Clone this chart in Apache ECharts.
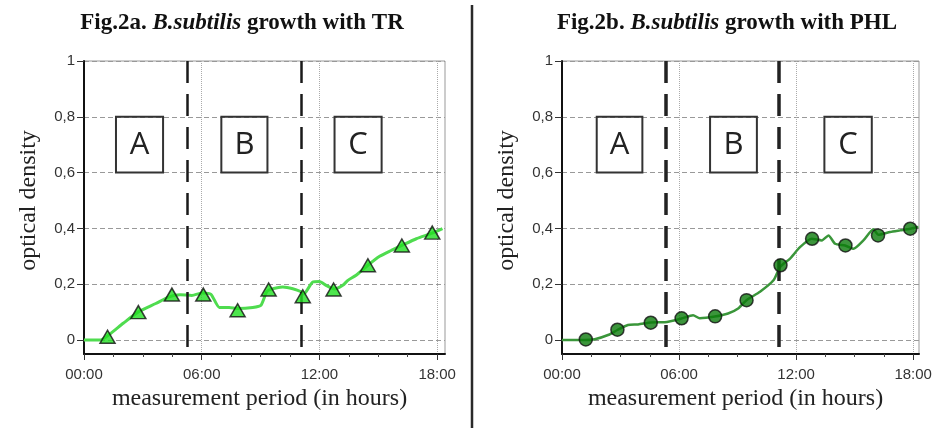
<!DOCTYPE html>
<html><head><meta charset="utf-8">
<script src="https://cdn.jsdelivr.net/npm/echarts@6/dist/echarts.min.js"></script>
<style>html,body{margin:0;padding:0;background:#fff}#c{width:943px;height:428px}</style>
</head><body><div id="c"></div>
<script>
// ---- tick values ----
const yTicks = [0, 0.2, 0.4, 0.6, 0.8, 1];
const xTicks = [0, 6, 12, 18];

// ---- Fig.2a (TR) ----
const trHours = [1.2, 2.77, 4.48, 6.08, 7.83, 9.41, 11.15, 12.72, 14.47, 16.2, 17.75];
const trOD    = [0.012, 0.1, 0.163, 0.163, 0.107, 0.181, 0.157, 0.181, 0.268, 0.339, 0.385];
const trLineHours = [0, 0.8, 1.2, 2.0, 2.75, 3.66, 4.34, 4.9, 5.5, 6.04, 6.47, 6.9, 7.4, 7.85, 8.6, 9.02, 9.3, 9.45, 10.13, 10.64, 11.07, 11.2, 11.66, 12.0, 12.34, 12.77, 13.19, 13.45, 13.87, 14.47, 15.07, 15.66, 16.2, 16.94, 17.75, 18.27];
const trLineOD    = [0, 0, 0.015, 0.06, 0.1, 0.131, 0.155, 0.162, 0.16, 0.169, 0.164, 0.117, 0.117, 0.113, 0.117, 0.125, 0.172, 0.18, 0.19, 0.184, 0.173, 0.165, 0.208, 0.21, 0.196, 0.183, 0.196, 0.214, 0.232, 0.268, 0.3, 0.321, 0.339, 0.363, 0.383, 0.399];
const trPhaseSplits = [5.26, 11.08];
const trBoxes = [['A', 1.63, 4.03], ['B', 7.0, 9.35], ['C', 12.77, 15.17]];

// ---- Fig.2b (PHL) ----
const phlHours = [1.22, 2.84, 4.55, 6.13, 7.85, 9.46, 11.2, 12.82, 14.53, 16.2, 17.85];
const phlOD    = [0.002, 0.037, 0.062, 0.078, 0.085, 0.143, 0.268, 0.363, 0.339, 0.375, 0.399];
const phlLineHours = [0, 1.16, 1.68, 2.36, 2.84, 3.38, 3.9, 4.55, 5.27, 6.12, 6.72, 7.06, 7.83, 8.51, 9.03, 9.46, 10.15, 10.84, 11.18, 11.69, 12.2, 12.8, 13.32, 13.66, 14.0, 14.51, 14.94, 15.45, 15.96, 16.22, 16.82, 17.33, 17.85, 18.27];
const phlLineOD    = [0, 0, 0.003, 0.018, 0.036, 0.054, 0.056, 0.063, 0.064, 0.077, 0.089, 0.078, 0.084, 0.095, 0.113, 0.143, 0.173, 0.214, 0.262, 0.292, 0.333, 0.363, 0.357, 0.375, 0.345, 0.339, 0.327, 0.357, 0.397, 0.377, 0.387, 0.393, 0.399, 0.405];
const phlPhaseSplits = [5.32, 11.1];
const phlBoxes = [['A', 1.78, 4.12], ['B', 7.59, 9.99], ['C', 13.45, 15.88]];

const boxBottom = 0.6, boxTop = 0.8;
const yMin = -0.05, yMax = 1, dashBottom = -0.025;

const zip = (a, b) => a.map((v, i) => [v, b[i]]);
const sans = 'Liberation Sans';
const serif = 'Liberation Serif';

function xAxisFor(idx, max) {
  return {
    type: 'value', gridIndex: idx, min: 0, max: max, interval: 6,
    axisLine: { onZero: false, lineStyle: { color: '#111', width: 2 } },
    axisTick: { customValues: xTicks, length: 6, lineStyle: { color: '#333' } },
    minorTick: { show: true, splitNumber: 4, length: 3, lineStyle: { color: '#444' } },
    axisLabel: {
      customValues: xTicks, margin: 13, color: '#333', fontFamily: sans, fontSize: 15,
      formatter: v => String(v).padStart(2, '0') + ':00'
    },
    splitLine: { show: true, lineStyle: { type: 'dotted', color: '#aaa', width: 1 } },
    name: 'measurement period (in hours)', nameLocation: 'middle', nameGap: 30,
    nameTextStyle: { fontFamily: serif, fontSize: 24, color: '#222', padding: [0, 10, 0, 0] }
  };
}
function yAxisFor(idx) {
  return {
    type: 'value', gridIndex: idx, min: yMin, max: yMax,
    axisLine: { show: true, lineStyle: { color: '#111', width: 2 } },
    axisTick: { show: true, customValues: yTicks, length: 7, lineStyle: { color: '#333' } },
    axisLabel: {
      customValues: yTicks, margin: 9, color: '#333', fontFamily: sans, fontSize: 15,
      formatter: v => (v === 0 ? '0' : v === 1 ? '1' : v.toFixed(1).replace('.', ','))
    },
    splitLine: { show: true, lineStyle: { type: [5, 3], color: '#999', width: 1 } },
    name: 'optical density', nameLocation: 'middle', nameGap: 43, nameRotate: 90,
    nameTextStyle: { fontFamily: serif, fontSize: 24, color: '#222', padding: [0, 0, 0, 14] }
  };
}
function markLinesFor(splits, color, width) {
  return {
    silent: true, symbol: 'none', label: { show: false },
    lineStyle: { type: [22, 11], color: color, width: width },
    data: splits.map(h => [{ coord: [h, yMax] }, { coord: [h, dashBottom] }])
  };
}
function markAreasFor(boxes) {
  return {
    silent: true,
    itemStyle: { color: 'rgba(0,0,0,0)', borderColor: '#333', borderWidth: 2 },
    label: { show: true, position: 'inside', fontFamily: 'Open Sans', fontSize: 31, color: '#222' },
    data: boxes.map(b => [{ name: b[0], xAxis: b[1], yAxis: boxBottom }, { xAxis: b[2], yAxis: boxTop }])
  };
}

const chart = echarts.init(document.getElementById('c'));
chart.setOption({
  animation: false,
  backgroundColor: '#fff',
  title: [
    { text: '{a|Fig.2a. }{b|B.subtilis}{a| growth with TR}', left: 242, top: 12, textAlign: 'center', padding: 0,
      textStyle: { rich: {
        a: { fontFamily: serif, fontWeight: 'bold', fontSize: 23, color: '#111' },
        b: { fontFamily: serif, fontWeight: 'bold', fontStyle: 'italic', fontSize: 23, color: '#111' } } } },
    { text: '{a|Fig.2b. }{b|B.subtilis}{a| growth with PHL}', left: 727, top: 12, textAlign: 'center', padding: 0,
      textStyle: { rich: {
        a: { fontFamily: serif, fontWeight: 'bold', fontSize: 23, color: '#111' },
        b: { fontFamily: serif, fontWeight: 'bold', fontStyle: 'italic', fontSize: 23, color: '#111' } } } }
  ],
  grid: [
    { left: 84, top: 61, width: 361, height: 293, show: true, borderColor: '#999', borderWidth: 1, backgroundColor: 'transparent' },
    { left: 562, top: 61, width: 357, height: 293, show: true, borderColor: '#999', borderWidth: 1, backgroundColor: 'transparent' }
  ],
  xAxis: [xAxisFor(0, 18.4), xAxisFor(1, 18.3)],
  yAxis: [yAxisFor(0), yAxisFor(1)],
  graphic: [
    { type: 'line', shape: { x1: 472, y1: 5, x2: 472, y2: 428 }, style: { stroke: '#2a2a2a', lineWidth: 2.5 } }
  ],
  series: [
    { type: 'line', xAxisIndex: 0, yAxisIndex: 0, data: zip(trLineHours, trLineOD), showSymbol: false, smooth: 0.2,
      lineStyle: { color: '#4fdc4f', width: 3 },
      markLine: markLinesFor(trPhaseSplits, '#1a1a1a', 2.5), markArea: markAreasFor(trBoxes), z: 3 },
    { type: 'scatter', xAxisIndex: 0, yAxisIndex: 0, data: zip(trHours, trOD), symbol: 'triangle', symbolSize: [15, 13],
      itemStyle: { color: '#22e022', borderColor: '#111', borderWidth: 1.5 }, z: 5 },
    { type: 'line', xAxisIndex: 1, yAxisIndex: 1, data: zip(phlLineHours, phlLineOD), showSymbol: false, smooth: 0.2,
      lineStyle: { color: '#3a963a', width: 2.5 },
      markLine: markLinesFor(phlPhaseSplits, '#222', 3.5), markArea: markAreasFor(phlBoxes), z: 3 },
    { type: 'scatter', xAxisIndex: 1, yAxisIndex: 1, data: zip(phlHours, phlOD), symbol: 'circle', symbolSize: 13,
      itemStyle: { color: '#0b7a0b', borderColor: '#111', borderWidth: 1.5 }, z: 5 }
  ]
});
</script>
</body></html>
